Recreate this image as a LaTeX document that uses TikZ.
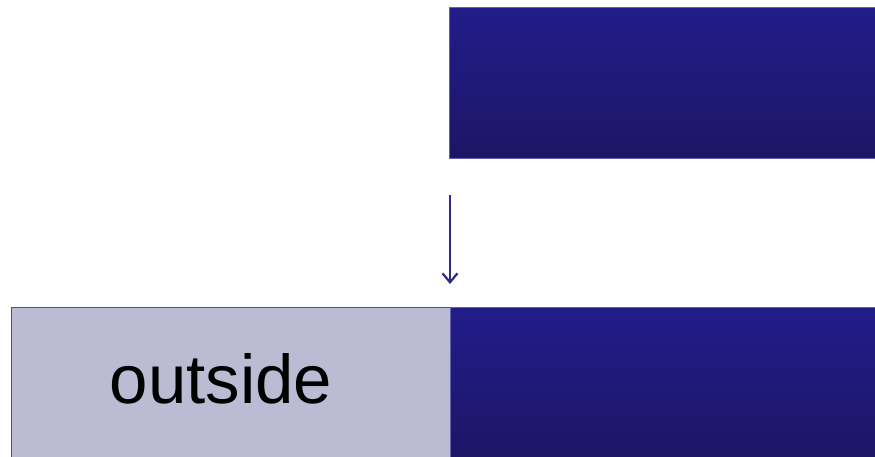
\documentclass[tikz,border=0pt]{standalone}
\usepackage{fontspec}
\setmainfont{Liberation Sans}
\usetikzlibrary{arrows.meta}
\definecolor{dtop}{HTML}{221C8A}
\definecolor{dbot}{HTML}{1C1666}
\definecolor{lav}{HTML}{BCBBD4}
\definecolor{lavedge}{HTML}{4B49A8}
\definecolor{arr}{HTML}{2E2A8C}
\tikzset{
  darkbox/.style={top color=dtop, bottom color=dbot, draw=dtop!70!white, line width=0.8pt},
  lightbox/.style={fill=lav, draw=lavedge, line width=0.8pt},
  conn/.style={draw=arr, line width=2.2pt, -{Straight Barb[length=9pt,width=15pt,line width=2.2pt]}},
}
\begin{document}
\begin{tikzpicture}[x=1pt,y=-1pt]
\useasboundingbox (0,0) rectangle (875,456);
\path[darkbox] (449.5,7.5) rectangle (876,158) coordinate (topbox);
\path[lightbox] (11.5,307.5) rectangle (450,457);
\path[darkbox] (450,307.5) rectangle (876,457);
\coordinate (a0) at (450,195);
\coordinate (a1) at (450,284);
\draw[conn] (a0) -- (a1);
\node[anchor=base, inner sep=0pt, font=\fontsize{69}{80}\selectfont] (txt) at (221,403) {outside};
\end{tikzpicture}
\end{document}
